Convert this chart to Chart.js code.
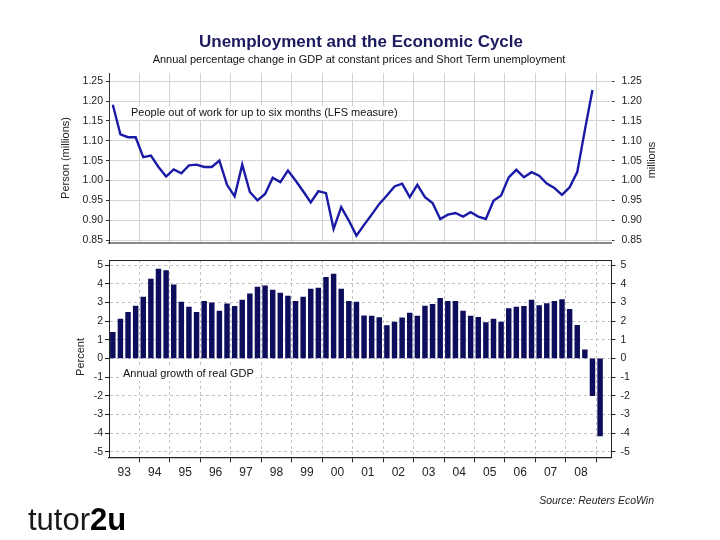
<!DOCTYPE html>
<html>
<head>
<meta charset="utf-8">
<script src="https://cdn.jsdelivr.net/npm/chart.js@4.4.1/dist/chart.umd.min.js"></script>
<style>
  body { margin: 0; background: #fff; }
  #wrap { position: relative; width: 720px; height: 540px; }
  canvas { position: absolute; left: 0; top: 0; }
</style>
</head>
<body>
<div id="wrap">
  <canvas id="unemp" width="720" height="540"></canvas>
  <canvas id="gdp" width="720" height="540"></canvas>
</div>
<script>
// quarterly observations
const quarters = [
  "1993Q1", "1993Q2", "1993Q3", "1993Q4", "1994Q1", "1994Q2", "1994Q3", "1994Q4",
  "1995Q1", "1995Q2", "1995Q3", "1995Q4", "1996Q1", "1996Q2", "1996Q3", "1996Q4",
  "1997Q1", "1997Q2", "1997Q3", "1997Q4", "1998Q1", "1998Q2", "1998Q3", "1998Q4",
  "1999Q1", "1999Q2", "1999Q3", "1999Q4", "2000Q1", "2000Q2", "2000Q3", "2000Q4",
  "2001Q1", "2001Q2", "2001Q3", "2001Q4", "2002Q1", "2002Q2", "2002Q3", "2002Q4",
  "2003Q1", "2003Q2", "2003Q3", "2003Q4", "2004Q1", "2004Q2", "2004Q3", "2004Q4",
  "2005Q1", "2005Q2", "2005Q3", "2005Q4", "2006Q1", "2006Q2", "2006Q3", "2006Q4",
  "2007Q1", "2007Q2", "2007Q3", "2007Q4", "2008Q1", "2008Q2", "2008Q3", "2008Q4",
  "2009Q1"
]
const yearLabels = ["93", "94", "95", "96", "97", "98", "99", "00", "01", "02", "03", "04", "05", "06", "07", "08"]

// people out of work up to six months, millions (1993Q1 - 2008Q4)
const shortTermUnemp = [
  1.191, 1.116, 1.109, 1.109, 1.059, 1.063, 1.034, 1.010,
  1.028, 1.018, 1.038, 1.040, 1.034, 1.034, 1.050, 0.989,
  0.960, 1.040, 0.971, 0.950, 0.966, 1.007, 0.996, 1.025,
  1.000, 0.973, 0.945, 0.973, 0.968, 0.878, 0.933, 0.899,
  0.861, 0.888, 0.914, 0.941, 0.962, 0.985, 0.992, 0.958,
  0.989, 0.958, 0.943, 0.903, 0.914, 0.918, 0.909, 0.920,
  0.909, 0.903, 0.949, 0.962, 1.008, 1.027, 1.008, 1.021,
  1.012, 0.992, 0.981, 0.964, 0.983, 1.021, 1.127, 1.228
]
// annual growth of real GDP, percent (1993Q1 - 2009Q1)
const gdpGrowth = [
  1.40, 2.10, 2.47, 2.80, 3.28, 4.25, 4.78, 4.70,
  3.94, 3.01, 2.74, 2.47, 3.06, 2.97, 2.53, 2.92,
  2.78, 3.12, 3.46, 3.82, 3.89, 3.66, 3.49, 3.33,
  3.06, 3.28, 3.71, 3.76, 4.34, 4.52, 3.71, 3.06,
  3.01, 2.28, 2.26, 2.19, 1.76, 1.94, 2.17, 2.42,
  2.26, 2.80, 2.90, 3.21, 3.05, 3.05, 2.53, 2.26,
  2.20, 1.92, 2.10, 1.94, 2.67, 2.74, 2.78, 3.12,
  2.83, 2.94, 3.06, 3.15, 2.62, 1.77, 0.45, -2.00,
  -4.16
]
const unempTicks = [0.85, 0.90, 0.95, 1.00, 1.05, 1.10, 1.15, 1.20, 1.25]
const gdpTicks = [-5, -4, -3, -2, -1, 0, 1, 2, 3, 4, 5]

const FONT = "'Liberation Sans', Arial, sans-serif"
Chart.defaults.font.family = FONT
Chart.defaults.color = "#222"

function qPos(label) {
  const y = +label.slice(0, 4), q = +label.slice(5)
  return y + (q - 0.5) / 4
}
function yearStart(lbl) {
  return (+lbl < 50 ? 2000 : 1900) + +lbl
}
const X_MIN = yearStart(yearLabels[0])
const X_MAX = 2009.5

function textBox(ctx, txt, x, y) {
  ctx.font = "11px " + FONT
  const w = ctx.measureText(txt).width
  ctx.fillStyle = "#fff"
  ctx.fillRect(x - 2, y - 7, w + 4, 14)
  ctx.fillStyle = "#111"
  ctx.textAlign = "left"
  ctx.textBaseline = "middle"
  ctx.fillText(txt, x, y)
}
function vText(ctx, txt, x, y) {
  ctx.save()
  ctx.translate(x, y)
  ctx.rotate(-Math.PI / 2)
  ctx.font = "11px " + FONT
  ctx.fillStyle = "#222"
  ctx.textAlign = "center"
  ctx.textBaseline = "middle"
  ctx.fillText(txt, 0, 0)
  ctx.restore()
}

const topDecor = {
  id: "topDecor",
  beforeDatasetsDraw(chart) {
    textBox(chart.ctx, "People out of work for up to six months (LFS measure)", 131, 113)
  },
  afterDraw(chart) {
    const ctx = chart.ctx
    ctx.save()
    ctx.textAlign = "center"
    ctx.textBaseline = "middle"
    ctx.font = "bold 17px " + FONT
    ctx.fillStyle = "#1b1b5e"
    ctx.fillText("Unemployment and the Economic Cycle", 361, 42)
    ctx.font = "11px " + FONT
    ctx.fillStyle = "#111"
    ctx.fillText("Annual percentage change in GDP at constant prices and Short Term unemployment", 359, 60)
    ctx.textAlign = "right"
    ctx.font = "italic 10.5px " + FONT
    ctx.fillStyle = "#222"
    ctx.fillText("Source: Reuters EcoWin", 654, 501)
    // logo
    ctx.textAlign = "left"
    ctx.textBaseline = "alphabetic"
    ctx.font = "31px " + FONT
    ctx.fillStyle = "#1a1a1a"
    ctx.fillText("tutor", 28, 530)
    const w = ctx.measureText("tutor").width
    ctx.font = "bold 31px " + FONT
    ctx.fillStyle = "#000"
    ctx.fillText("2u", 28 + w, 530)
    ctx.restore()
    vText(ctx, "Person (millions)", 66, 158)
    vText(ctx, "millions", 652, 160)
  }
}

const bottomDecor = {
  id: "bottomDecor",
  beforeDatasetsDraw(chart) {
    textBox(chart.ctx, "Annual growth of real GDP", 123, 374)
  },
  afterDraw(chart) {
    const ctx = chart.ctx, a = chart.chartArea
    ctx.save()
    ctx.strokeStyle = "#222"
    ctx.lineWidth = 1
    ctx.beginPath()
    ctx.moveTo(a.left, a.top + 0.5)
    ctx.lineTo(a.right, a.top + 0.5)
    ctx.stroke()
    ctx.restore()
    vText(ctx, "Percent", 81, 357)
  }
}

const isYear = v => Math.abs(v % 1) < 0.01

new Chart(document.getElementById("unemp"), {
  type: "line",
  data: {
    datasets: [{
      data: shortTermUnemp.map((v, i) => ({ x: qPos(quarters[i]), y: v })),
      borderColor: "#1a1aa6",
      borderWidth: 2.4,
      pointRadius: 0,
      tension: 0,
      yAxisID: "y",
    }],
  },
  options: {
    responsive: false,
    animation: false,
    layout: { padding: { top: 73, bottom: 296.7, left: 0, right: 0 } },
    plugins: { legend: { display: false }, tooltip: { enabled: false } },
    scales: {
      x: {
        type: "linear", min: X_MIN, max: X_MAX,
        afterBuildTicks: s => { s.ticks = yearLabels.map(l => ({ value: yearStart(l) + 1 })) },
        afterFit: s => { s.height = 0 },
        ticks: { display: false },
        grid: { color: "#d4d4d4", drawTicks: false },
        border: { color: "#8a8a8a", width: 2 },
      },
      y: {
        position: "left", min: 0.8417, max: 1.2709,
        afterBuildTicks: s => { s.ticks = unempTicks.map(v => ({ value: v })) },
        afterFit: s => { s.width = 109 },
        ticks: { font: { size: 10.5 }, padding: 3, callback: v => v.toFixed(2) },
        grid: { color: "#d4d4d4", tickLength: 3, tickColor: "#333" },
        border: { color: "#333" },
      },
      y2: {
        position: "right", min: 0.8417, max: 1.2709,
        afterBuildTicks: s => { s.ticks = unempTicks.map(v => ({ value: v })) },
        afterFit: s => { s.width = 108.5 },
        ticks: { font: { size: 10.5 }, padding: 7, callback: v => v.toFixed(2) },
        grid: { drawOnChartArea: false, tickLength: 3, tickColor: "#333" },
        border: { display: false },
      },
    },
  },
  plugins: [topDecor],
})

new Chart(document.getElementById("gdp"), {
  type: "bar",
  data: {
    datasets: [{
      data: gdpGrowth.map((v, i) => ({ x: qPos(quarters[i]), y: v })),
      backgroundColor: "#0d0d5c",
      barThickness: 4.8,
    }],
  },
  options: {
    responsive: false,
    animation: false,
    layout: { padding: { top: 260, bottom: 52.7, left: 0, right: 0 } },
    plugins: { legend: { display: false }, tooltip: { enabled: false } },
    scales: {
      x: {
        type: "linear", min: X_MIN, max: X_MAX, offset: false,
        afterBuildTicks: s => {
          const t = []
          yearLabels.forEach(l => {
            t.push({ value: yearStart(l) + 0.5 })
            t.push({ value: yearStart(l) + 1 })
          })
          s.ticks = t
        },
        afterFit: s => { s.height = 30 },
        ticks: {
          autoSkip: false, maxRotation: 0, font: { size: 12 }, padding: 3,
          callback: v => isYear(v) ? "" : yearLabels[Math.floor(v) - X_MIN],
        },
        grid: {
          offset: false,
          color: c => (c.tick && isYear(c.tick.value)) ? "#c4c4c4" : "rgba(0,0,0,0)",
          tickColor: c => (c.tick && isYear(c.tick.value)) ? "#222" : "rgba(0,0,0,0)",
          tickLength: 5,
        },
        border: { color: "#222", width: 1.3, dash: [3, 3] },
      },
      y: {
        position: "left", min: -5.3, max: 5.268,
        afterBuildTicks: s => { s.ticks = gdpTicks.map(v => ({ value: v })) },
        afterFit: s => { s.width = 109 },
        ticks: { font: { size: 10.5 }, padding: 2, callback: v => String(v) },
        grid: { color: "#c4c4c4", tickLength: 4, tickColor: "#222" },
        border: { color: "#222", dash: [3, 3] },
      },
      y2: {
        position: "right", min: -5.3, max: 5.268,
        afterBuildTicks: s => { s.ticks = gdpTicks.map(v => ({ value: v })) },
        afterFit: s => { s.width = 108.5 },
        ticks: { font: { size: 10.5 }, padding: 5, callback: v => String(v) },
        grid: { drawOnChartArea: false, tickLength: 4, tickColor: "#222" },
        border: { color: "#222" },
      },
    },
  },
  plugins: [bottomDecor],
})
</script>
</body>
</html>
